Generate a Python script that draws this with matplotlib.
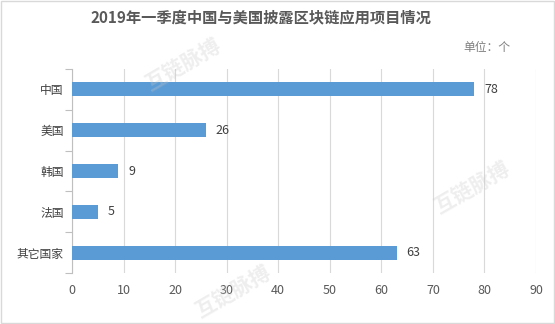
import matplotlib.pyplot as plt
from matplotlib.patches import Rectangle

plt.rcParams['font.family'] = ['Noto Sans CJK SC', 'DejaVu Sans']

countries = ["中国", "美国", "韩国", "法国", "其它国家"]
projects = [78, 26, 9, 5, 63]
x_ticks = [0, 10, 20, 30, 40, 50, 60, 70, 80, 90]

BAR_COLOR = "#5b9bd5"
TEXT_COLOR = "#404040"

fig = plt.figure(figsize=(5.55, 3.24), dpi=100)
ax = fig.add_axes([0.1297, 0.1574, 0.8361, 0.6296])

pos = list(range(len(countries)))
ax.barh(pos, projects, height=0.34, color=BAR_COLOR, zorder=3)
ax.set_ylim(len(countries) - 0.5, -0.5)
ax.set_xlim(0, 90)
ax.set_xticks(x_ticks)
ax.set_yticks(pos)
ax.set_yticklabels(countries)

# tick marks between categories on the left axis
ax.set_yticks([p - 0.5 for p in pos] + [len(countries) - 0.5], minor=True)
ax.tick_params(axis="y", which="major", length=0, pad=6, labelsize=8.5, labelcolor=TEXT_COLOR)
ax.tick_params(axis="y", which="minor", length=5, color="#bfbfbf", width=0.8)
ax.tick_params(axis="x", length=0, pad=8, labelsize=9, labelcolor="#595959")

ax.grid(axis="x", color="#d9d9d9", linewidth=0.8, zorder=0)
for side in ["top", "right", "bottom"]:
    ax.spines[side].set_visible(False)
ax.spines["left"].set_color("#bfbfbf")
ax.spines["left"].set_linewidth(0.8)

for p, v in zip(pos, projects):
    ax.text(v + 1.9, p, str(v), va="center", ha="left", fontsize=9, color=TEXT_COLOR)

fig.text(0.471, 0.945, "2019年一季度中国与美国披露区块链应用项目情况", ha="center", va="center",
         fontsize=11, fontweight="bold", color="#595959")
fig.text(0.878, 0.852, "单位：个", ha="center", va="center", fontsize=8.5, color="#7f7f7f")

# faint watermarks
for wx, wy in [(0.33, 0.80), (0.85, 0.42), (0.42, 0.10)]:
    fig.text(wx, wy, "互链脉搏", ha="center", va="center", fontsize=15, rotation=30,
             color="#c8c8c8", alpha=0.3, fontweight="bold", zorder=5)

fig.patches.append(Rectangle((0.002, 0.003), 0.996, 0.994, transform=fig.transFigure,
                             fill=False, edgecolor="#d9d9d9", linewidth=1))

fig.savefig("out.png", dpi=100)
